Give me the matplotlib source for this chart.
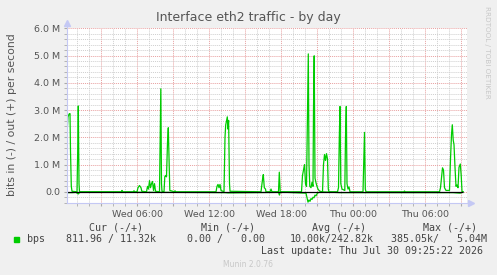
#imports
import numpy as np
import matplotlib
matplotlib.use("Agg")
import matplotlib.pyplot as plt
from matplotlib.patches import Rectangle
from matplotlib.ticker import MultipleLocator, FuncFormatter

#data: minutes since Wed 00:00, values in Mbit/s
out_t = [10, 15, 20, 25, 27.5, 31.5, 35, 60, 63.5, 66.5, 70, 72.5,
         282.5, 285, 287.5, 342.5, 345, 347.5,
         360, 365, 372.5, 380, 384,
         407.5, 412.5, 417.5, 422.5, 427.5, 432.5, 437.5, 442.5, 447.5, 452.5,
         472.5, 476.5, 479, 482.5, 485,
         495, 499, 502.5, 507.5, 512.5, 516.5, 521, 524,
         547.5, 550, 552.5,
         755, 760, 765, 770, 775, 780, 795, 800, 803.5, 807.5, 811.5, 815, 818, 822.5, 825,
         980, 987.5, 991.5, 996.5, 1002.5, 1005,
         1025, 1030, 1035, 1067.5, 1071.5, 1076,
         1182.5, 1187.5, 1192.5, 1197.5, 1202.5, 1207.5, 1212.5, 1216.5, 1220, 1224,
         1230, 1235, 1240, 1242.5, 1246, 1250, 1255, 1260, 1265, 1270, 1280,
         1287.5, 1292.5, 1297.5, 1302.5, 1307.5, 1312.5, 1316.5, 1320,
         1362.5, 1367.5, 1371.5, 1375, 1379, 1385, 1399, 1402.5, 1406.5, 1410, 1415, 1420, 1425,
         1490, 1494, 1497.5, 1501.5, 1505,
         1695, 1697.5, 1700,
         1872.5, 1877.5, 1882.5, 1887.5, 1892.5, 1897.5, 1905, 1922.5, 1927.5, 1932.5,
         1936.5, 1941, 1945, 1950, 1955, 1960, 1965, 1970, 1976.5, 1981, 1985, 1990]
out_v = [2.1, 2.75, 2.85, 2.87, 1.5, 0.2, 0.02, 0.0, 1.5, 3.15, 0.3, 0.0,
         0.0, 0.05, 0.0, 0.0, 0.04, 0.0,
         0.0, 0.15, 0.23, 0.15, 0.02,
         0.0, 0.2, 0.1, 0.41, 0.15, 0.3, 0.38, 0.05, 0.3, 0.02,
         0.0, 2.5, 3.78, 0.3, 0.02,
         0.0, 0.55, 0.6, 0.55, 1.8, 2.35, 1.0, 0.05,
         0.0, 0.04, 0.0,
         0.0, 0.2, 0.27, 0.15, 0.27, 0.05, 0.0, 2.0, 2.45, 2.6, 2.75, 2.3, 2.62, 0.3, 0.02,
         0.0, 0.45, 0.63, 0.15, 0.1, 0.0,
         0.0, 0.1, 0.0, 0.0, 0.72, 0.0,
         0.0, 0.6, 0.8, 1.0, 0.3, 0.2, 3.0, 5.06, 1.0, 0.2,
         0.15, 0.35, 0.2, 3.0, 4.99, 0.5, 0.33, 0.2, 0.1, 0.05, 0.0,
         0.0, 1.0, 1.37, 1.15, 1.4, 1.2, 0.1, 0.0,
         0.0, 0.15, 2.0, 3.13, 0.3, 0.1, 0.05, 2.0, 3.13, 0.3, 0.1, 0.18, 0.0,
         0.0, 1.2, 2.18, 0.1, 0.0,
         0.0, 0.03, 0.0,
         0.0, 0.15, 0.5, 0.88, 0.8, 0.15, 0.05, 0.05, 1.2, 2.1,
         2.46, 1.9, 1.73, 0.9, 0.2, 0.25, 0.15, 0.9, 1.02, 0.6, 0.02, 0.0]

in_t = [10, 35, 55, 66, 75, 480, 520, 800, 815, 1068, 1072, 1076,
        1205, 1215, 1220, 1225, 1230, 1235, 1240, 1245, 1250, 1255, 1262, 1270, 1280,
        1375, 1406, 1940, 1976, 1990]
in_v = [-0.03, -0.03, -0.02, -0.08, -0.01, -0.02, -0.02, -0.03, -0.04, -0.02, -0.12, -0.01,
        -0.05, -0.38, -0.3, -0.35, -0.25, -0.28, -0.2, -0.22, -0.12, -0.15, -0.05, -0.02, 0.0,
        -0.03, -0.03, -0.03, -0.05, 0.0]

tick_labels = {360: "Wed 06:00", 720: "Wed 12:00", 1080: "Wed 18:00",
               1440: "Thu 00:00", 1800: "Thu 06:00"}

legend_headers = ["Cur (-/+)", "Min (-/+)", "Avg (-/+)", "Max (-/+)"]
legend_values = ["811.96 / 11.32k", "0.00 /   0.00", "10.00k/242.82k", "385.05k/   5.04M"]

#colors
bg = "#F0F0F0"
green = "#00CC00"
txt = "#555555"
axis_col = "#C4C8F4"

W, H = 497, 275
fig = plt.figure(figsize=(W / 100, H / 100), dpi=100, facecolor=bg)
ax = fig.add_axes([67 / W, 1 - 202.7 / H, 400 / W, (202.7 - 28.3) / H])
ax.set_facecolor("white")

ax.set_xlim(10, 2010)
ax.set_ylim(-0.4, 6.0)

#grid
ax.xaxis.set_major_locator(MultipleLocator(180))
ax.xaxis.set_minor_locator(MultipleLocator(60))
ax.yaxis.set_major_locator(MultipleLocator(1.0))
ax.yaxis.set_minor_locator(MultipleLocator(0.2))
ax.grid(which="minor", color="#CFCFCF", linestyle=(0, (1, 1)), linewidth=0.7)
ax.grid(which="major", color="#E8A0A0", linestyle=(0, (1, 1)), linewidth=0.7)
ax.set_axisbelow(True)

ax.xaxis.set_major_formatter(FuncFormatter(lambda v, p: tick_labels.get(int(round(v)), "")))
ax.yaxis.set_major_formatter(FuncFormatter(lambda v, p: "0.0" if abs(v) < 1e-9 else ("%.1f M" % v if v > 0 else "")))
ax.tick_params(which="both", length=2, color="#AAAAAA", labelcolor=txt, labelsize=6.8, pad=3)
for s in ax.spines.values():
    s.set_visible(False)

#data lines
ax.plot(out_t, out_v, color=green, linewidth=0.9, zorder=3)
ax.plot(in_t, in_v, color=green, linewidth=0.9, zorder=3)
ax.hlines(0, in_t[0], in_t[-1], color="black", linewidth=0.9, zorder=4)

#axis lines with arrows
ax.plot([0, 0], [0, 1.03], transform=ax.transAxes, color=axis_col, lw=0.8, clip_on=False, zorder=5)
ax.plot([0], [1.03], transform=ax.transAxes, marker="^", color=axis_col, markersize=4, clip_on=False, zorder=5)
ax.plot([0, 1.01], [0, 0], transform=ax.transAxes, color=axis_col, lw=0.8, clip_on=False, zorder=5)
ax.plot([1.01], [0], transform=ax.transAxes, marker=">", color=axis_col, markersize=4, clip_on=False, zorder=5)

#texts
fig.text(248 / W, 1 - 17 / H, "Interface eth2 traffic - by day", ha="center", va="center",
         fontsize=9.0, color=txt)
fig.text(12 / W, 1 - 115 / H, "bits in (-) / out (+) per second", ha="center", va="center",
         rotation=90, fontsize=7.8, color=txt)
fig.text(487 / W, 1 - 52 / H, "RRDTOOL / TOBI OETIKER", ha="center", va="center",
         rotation=270, fontsize=5.2, color="#C8C8C8")

mono = "DejaVu Sans Mono"
for x, s in zip([89.3, 200.7, 311.7, 422.7], legend_headers):
    fig.text(x / W, 1 - 227.7 / H, s, ha="left", va="center", family=mono, fontsize=7.2, color="#444444")
fig.patches.append(Rectangle((14 / W, 1 - 242 / H), 5 / W, 5 / H, transform=fig.transFigure,
                             facecolor=green, edgecolor=green))
fig.text(26.7 / W, 1 - 239.3 / H, "bps", ha="left", va="center", family=mono, fontsize=7.2, color="#444444")
for x, s in zip([66, 186.7, 289.3, 391], legend_values):
    fig.text(x / W, 1 - 239.3 / H, s, ha="left", va="center", family=mono, fontsize=7.2, color="#444444")
fig.text(482.7 / W, 1 - 251 / H, "Last update: Thu Jul 30 09:25:22 2026", ha="right", va="center",
         family=mono, fontsize=7.2, color="#444444")
fig.text(248 / W, 1 - 264.3 / H, "Munin 2.0.76", ha="center", va="center", fontsize=5.5, color="#C8C8C8")

fig.savefig("out.png", dpi=100, facecolor=bg)
